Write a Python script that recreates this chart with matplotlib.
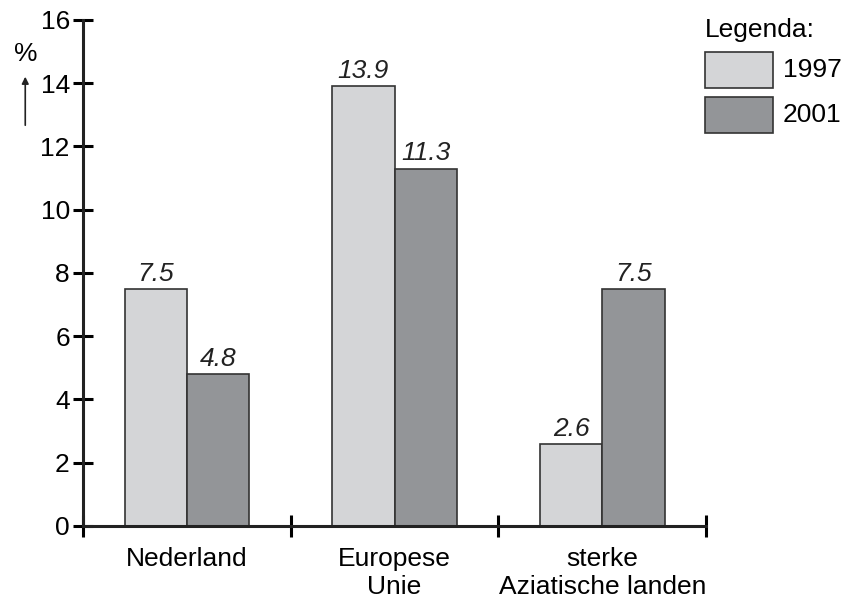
import matplotlib.pyplot as plt
import matplotlib.patches as mpatches
import numpy as np

plt.rcParams['font.family'] = ['Liberation Sans', 'DejaVu Sans']

categories = ['Nederland', 'Europese\nUnie', 'sterke\nAziatische landen']
years = ['1997', '2001']
values_1997 = [7.5, 13.9, 2.6]
values_2001 = [4.8, 11.3, 7.5]
y_ticks = [0, 2, 4, 6, 8, 10, 12, 14, 16]

light = '#d4d5d7'
dark = '#939598'
edge = '#333333'
fs = 19

fig = plt.figure(figsize=(8.42, 6.01), dpi=100)
ax = fig.add_axes([0.0986, 0.1248, 0.74, 0.842])

x = np.arange(len(categories))
w = 0.3
b1 = ax.bar(x - w / 2, values_1997, w, color=light, edgecolor=edge, linewidth=1.2)
b2 = ax.bar(x + w / 2, values_2001, w, color=dark, edgecolor=edge, linewidth=1.2)

for bars, vals in [(b1, values_1997), (b2, values_2001)]:
    for r, v in zip(bars, vals):
        ax.text(r.get_x() + r.get_width() / 2, v + 0.1, f'{v}', ha='center', va='bottom',
                fontsize=fs, style='italic', color='#222222')

ax.set_xlim(-0.5, 2.5)
ax.set_ylim(0, 16)
ax.set_yticks(y_ticks)
ax.set_xticks([-0.5, 0.5, 1.5, 2.5])
ax.set_xticklabels([])
ax.set_xticks(x, minor=True)
ax.set_xticklabels(categories, minor=True, fontsize=fs, linespacing=1.2, va='top')
ax.tick_params(axis='x', which='minor', length=0, pad=15)
ax.tick_params(axis='x', which='major', direction='inout', length=16, width=2.2)
ax.tick_params(axis='y', direction='inout', length=15, width=2.2, labelsize=fs, pad=2)

for s in ['top', 'right']:
    ax.spines[s].set_visible(False)
for s in ['left', 'bottom']:
    ax.spines[s].set_linewidth(2.2)
    ax.spines[s].set_color('#222222')

# y-axis unit with arrow
fig.text(0.030, 0.910, '%', fontsize=fs, ha='center', va='center')
fig.add_artist(mpatches.FancyArrowPatch(
    (0.030, 0.787), (0.030, 0.877), transform=fig.transFigure,
    arrowstyle='-|>', mutation_scale=10, color='#222222', linewidth=1.2))

# legend drawn by hand
fig.text(0.837, 0.950, 'Legenda:', fontsize=fs, ha='left', va='center')
for i, (yr, col) in enumerate(zip(years, [light, dark])):
    y0 = 1 - (88 + 45 * i) / 601
    fig.add_artist(mpatches.Rectangle((705 / 842, y0), 68 / 842, 36 / 601,
                                      transform=fig.transFigure, facecolor=col,
                                      edgecolor=edge, linewidth=1.2))
    fig.text(783 / 842, y0 + 18 / 601, yr, fontsize=fs, ha='left', va='center')

fig.savefig('out.png', dpi=100)
